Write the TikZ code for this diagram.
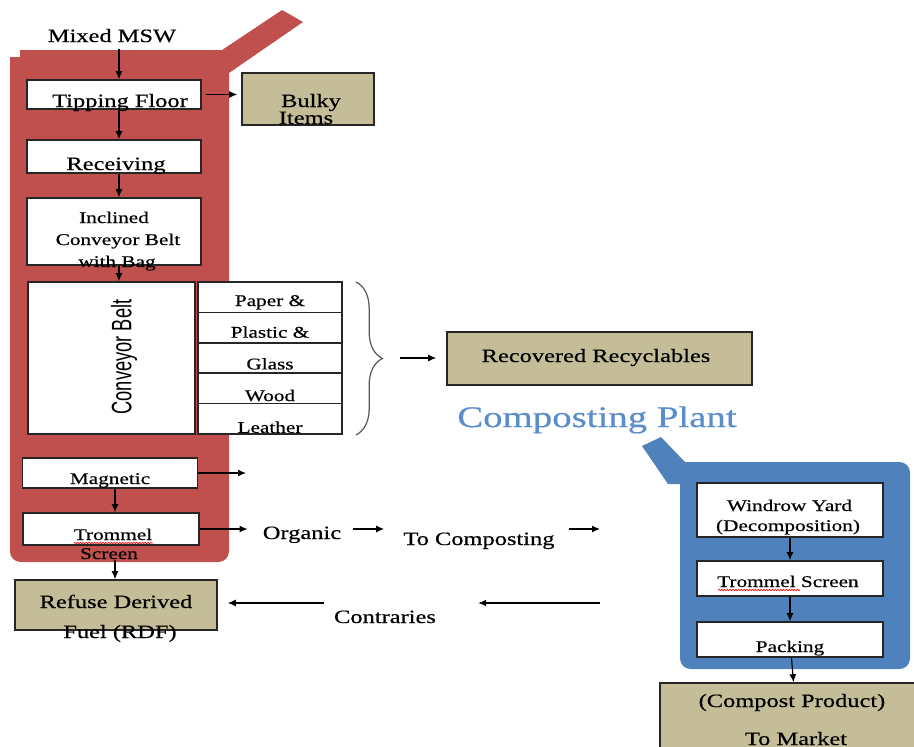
\documentclass[tikz,border=0pt]{standalone}
\usepackage{fontspec}
\setmainfont{Liberation Serif}[FakeStretch=1.3,FakeBold=0.5]
\newfontfamily\beltfont{Liberation Sans}[FakeStretch=0.65]
\usetikzlibrary{arrows.meta,decorations.pathreplacing,decorations.pathmorphing}
\definecolor{mswred}{HTML}{C0504D}
\definecolor{plantblue}{HTML}{4F81BD}
\definecolor{titleblue}{HTML}{5A8DCA}
\definecolor{outtan}{HTML}{C4BD97}

\begin{document}
\begin{tikzpicture}
 [x=0.02cm, y=-0.02cm,
  every node/.style={inner sep=0pt, font=\fontsize{10.7}{12}\selectfont},
  pbox/.style={draw=black!85, line width=0.9pt, fill=white},
  obox/.style={draw=black!85, line width=0.9pt, fill=outtan},
  lbl/.style={anchor=base},
  small/.style={font=\fontsize{9.3}{11}\selectfont},
  flow/.style={line width=0.65pt, -{Latex[length=1.6mm,width=1.4mm]}},
  typo/.style={red, line width=0.4pt, decorate,
    decoration={snake, amplitude=0.35pt, segment length=1.6pt}}]

  \useasboundingbox (0,0) rectangle (914,747);

  % the two plant outlines
  \fill[mswred] (20,50) -- (222,50) -- (282,10) -- (303,22) -- (229,73)
    [rounded corners=6pt] -- (229,562) -- (10,562) [sharp corners] -- (10,57) -- (20,57) -- cycle;
  \fill[plantblue] (642,446) -- (661,437) -- (685,462)
    [rounded corners=6pt] -- (910,462) -- (910,669) -- (680,669) [sharp corners] -- (680,484) -- (668,484) -- cycle;

  \coordinate (col) at (119,0);
  \coordinate (col2) at (115,0);

  \node[lbl] at (112,42) (msw) {Mixed MSW};
  \draw node[pbox, minimum width=3.48cm, minimum height=0.58cm] at (114,94.5) (tip) {};
  \node[lbl] at (120,107) (tipT) {Tipping Floor};
  \draw node[obox, minimum width=2.64cm, minimum height=1.04cm] at (308,99) (bulky) {};
  \node[lbl] at (311,107) (bulkyT) {Bulky};
  \node[lbl] at (306,124) (bulkyT2) {Items};

  \draw node[pbox, minimum width=3.48cm, minimum height=0.66cm] at (114,156.5) (recv) {};
  \node[lbl] at (116,170) (recvT) {Receiving};
  \draw node[pbox, minimum width=3.48cm, minimum height=1.34cm] at (114,231.5) (incl) {};
  \node[lbl, small] at (114,223) (inclT) {Inclined};
  \node[lbl, small] at (118,245) (inclT2) {Conveyor Belt};
  \node[lbl, small] at (117,267) (inclT3) {with Bag};

  \draw node[pbox, minimum width=3.34cm, minimum height=3.04cm] at (111.5,358) (belt) {};
  \node[rotate=90, font=\beltfont\fontsize{16}{18}\selectfont] at (124,357) (beltT) {Conveyor Belt};
  \foreach \i in {0,...,4}
    \draw node[pbox, minimum width=2.88cm, minimum height=0.608cm] at (270,297.2+30.4*\i) (row\i) {};
  \foreach \t [count=\i from 0] in {Paper \&, Plastic \&, Glass, Wood, Leather}
    \node[lbl, small] at (270,306+31.7*\i) (rowt\i) {\t};

  \draw[decorate, decoration={brace, amplitude=15pt}, black!65, line width=0.7pt] (356,282) -- (356,435);
  \draw node[obox, minimum width=6.1cm, minimum height=1.06cm] at (599.5,358.5) (rec) {};
  \node[lbl] at (596,362) (recT) {Recovered Recyclables};
  \coordinate (brc) at (400,358);
  \node[lbl, text=titleblue, font=\fontsize{17}{19}\selectfont] at (597,427) (cptitle) {Composting Plant};

  \draw node[pbox, minimum width=3.5cm, minimum height=0.6cm] at (110,473) (mag) {};
  \node[lbl, small] at (110,484) (magT) {Magnetic};
  \draw node[pbox, minimum width=3.52cm, minimum height=0.64cm] at (111,529) (trom) {};
  \node[lbl, small] at (113,540) (tromT) {Trommel};
  \node[lbl, small] at (109,559) (tromS) {Screen};
  \draw[typo] (74,543) -- (153,543);
  \coordinate (magout) at (246,473);

  \node[lbl] at (302,539) (org) {Organic};
  \node[lbl] at (479,545) (tocomp) {To Composting};
  \coordinate (toplant) at (600,529);

  \draw node[obox, minimum width=4.04cm, minimum height=1.0cm] at (116,605) (rdf) {};
  \node[lbl] at (116,608) (rdfT) {Refuse Derived};
  \node[lbl] at (120,638) (rdfT2) {Fuel (RDF)};
  \node[lbl] at (385,623) (contr) {Contraries};
  \coordinate (fromplant) at (600,603);

  % composting plant
  \draw node[pbox, minimum width=3.72cm, minimum height=1.08cm] at (790,510) (wind) {};
  \node[lbl, small] at (789.5,511) (windT) {Windrow Yard};
  \node[lbl, small] at (788,531) (windT2) {(Decomposition)};
  \draw node[pbox, minimum width=3.72cm, minimum height=0.7cm] at (790,578.5) (trom2) {};
  \node[lbl, small] at (788,587) (trom2T) {Trommel Screen};
  \draw[typo] (718,590) -- (800,590);
  \draw node[pbox, minimum width=3.72cm, minimum height=0.7cm] at (790,639.5) (pack) {};
  \node[lbl, small] at (790,652) (packT) {Packing};
  \draw node[obox, minimum width=5.48cm, minimum height=1.68cm] at (797,725) (comp) {};
  \node[lbl] at (792,707) (compT) {(Compost Product)};
  \node[lbl] at (796,745) (compT2) {To Market};

  % connectors
  \draw[flow, shorten <=0.12cm] (msw.south -| col) -- (tip.north -| col);
  \draw[flow, shorten <=0.08cm, shorten >=0.08cm] (tip.east) -- (tip.east -| bulky.west);
  \draw[flow] (tip.south -| col) -- (recv.north -| col);
  \draw[flow] (recv.south -| col) -- (incl.north -| col);
  \draw[flow] (incl.south -| col) -- (belt.north -| col);
  \draw[flow, shorten >=0.2cm] (brc) -- (brc -| rec.west);
  \draw[flow] (mag.east) -- (magout);
  \draw[flow] (mag.south -| col2) -- (trom.north -| col2);
  \draw[flow, shorten >=0.3cm] (trom.east) -- (trom.east -| org.west);
  \draw[flow, shorten <=0.24cm, shorten >=0.38cm] (trom.east -| org.east) -- (trom.east -| tocomp.west);
  \draw[flow, shorten <=0.28cm] (trom.east -| tocomp.east) -- (toplant);
  \draw[flow] (tromS.south -| col2) -- (rdf.north -| col2);
  \draw[flow, shorten >=0.84cm] (fromplant) -- (fromplant -| contr.east);
  \draw[flow, shorten <=0.2cm, shorten >=0.2cm] (fromplant -| contr.west) -- (fromplant -| rdf.east);
  \draw[flow] (wind) -- (trom2);
  \draw[flow] (trom2) -- (pack);
  \draw[flow] (pack) -- (comp);
\end{tikzpicture}
\end{document}
